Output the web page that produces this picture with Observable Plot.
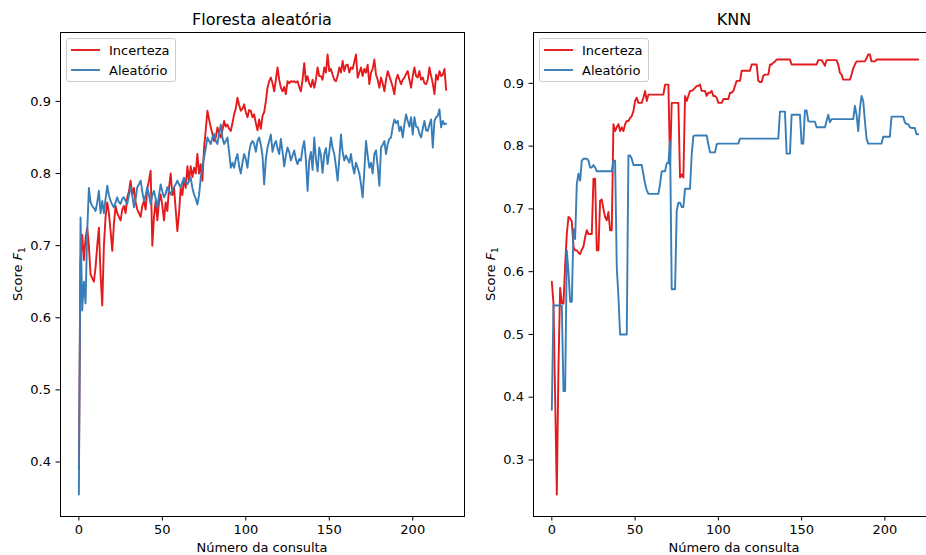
<!DOCTYPE html>
<html>
<head>
<meta charset="utf-8">
<script src="https://cdn.jsdelivr.net/npm/d3@7"></script>
<script src="https://cdn.jsdelivr.net/npm/@observablehq/plot@0.6"></script>
<style>
  html, body { margin: 0; padding: 0; background: #fff; overflow: hidden; }
  #fig { position: relative; width: 926px; height: 555px; overflow: hidden; font-family: "DejaVu Sans", sans-serif; color: #000; }
  .panel { position: absolute; top: 0; width: 470px; height: 555px; }
  .panel svg { max-width: none !important; display: block; }
  .title { position: absolute; top: 10px; font-size: 16px; line-height: normal; transform: translateX(-50%); white-space: nowrap; }
  .xlab { position: absolute; top: 540px; font-size: 13px; transform: translateX(-50%); white-space: nowrap; }
  .ylab { position: absolute; font-size: 13px; white-space: nowrap; transform: translate(-50%, -50%) rotate(-90deg); }
  .ylab sub { font-size: 70%; vertical-align: -3px; line-height: 0; }
  .legend { position: absolute; top: 38px; background: rgba(255,255,255,0.8); border: 1px solid #cccccc; border-radius: 3px; padding: 1px 6px 1px 4px; font-size: 13px; }
  .legend .row { display: flex; align-items: center; height: 20px; }
  .legend svg { margin-right: 9px; }
</style>
</head>
<body>
<div id="fig">
  <div class="panel" id="left" style="left:0px"></div>
  <div class="panel" id="right" style="left:473px"></div>
  <div class="title" style="left:262px">Floresta aleatória</div>
  <div class="title" style="left:734px">KNN</div>
  <div class="xlab" style="left:262px">Número da consulta</div>
  <div class="xlab" style="left:734px">Número da consulta</div>
  <div class="ylab" style="left:17px; top:274px">Score <i>F</i><sub>1</sub></div>
  <div class="ylab" style="left:490px; top:274px">Score <i>F</i><sub>1</sub></div>
  <div class="legend" id="legL" style="left:66px"></div>
  <div class="legend" id="legR" style="left:539px"></div>
</div>
<script>
// ---- Data ----
const seriesNames = ["Incerteza", "Aleatório"];
const panelTitles = ["Floresta aleatória", "KNN"];
const xTicks = [0, 50, 100, 150, 200];
const yTicksRF = [0.4, 0.5, 0.6, 0.7, 0.8, 0.9];
const yTicksKNN = [0.3, 0.4, 0.5, 0.6, 0.7, 0.8, 0.9];

const rfIncerteza = [
  0.39, 0.68, 0.715, 0.68, 0.71, 0.725, 0.70, 0.66, 0.655, 0.65,
  0.67, 0.70, 0.725, 0.66, 0.617, 0.70, 0.74, 0.76, 0.745, 0.72,
  0.693, 0.73, 0.755, 0.745, 0.74, 0.735, 0.75, 0.755, 0.745, 0.767,
  0.775, 0.79, 0.77, 0.78, 0.76, 0.75, 0.745, 0.74, 0.755, 0.762,
  0.75, 0.78, 0.79, 0.804, 0.70, 0.74, 0.762, 0.735, 0.76, 0.771,
  0.755, 0.735, 0.76, 0.748, 0.78, 0.80, 0.77, 0.78, 0.75, 0.72,
  0.745, 0.78, 0.77, 0.794, 0.78, 0.81, 0.79, 0.81, 0.795, 0.808,
  0.80, 0.827, 0.80, 0.813, 0.79, 0.836, 0.86, 0.887, 0.875, 0.864,
  0.855, 0.845, 0.85, 0.864, 0.855, 0.85, 0.86, 0.873, 0.865, 0.868,
  0.862, 0.859, 0.87, 0.882, 0.89, 0.905, 0.895, 0.887, 0.89, 0.896,
  0.885, 0.878, 0.888, 0.887, 0.878, 0.882, 0.87, 0.86, 0.875, 0.862,
  0.88, 0.885, 0.90, 0.919, 0.928, 0.933, 0.925, 0.914, 0.93, 0.947,
  0.93, 0.919, 0.914, 0.92, 0.91, 0.928, 0.925, 0.928, 0.927, 0.928,
  0.926, 0.928, 0.92, 0.914, 0.93, 0.953, 0.928, 0.935, 0.925, 0.92,
  0.93, 0.919, 0.93, 0.947, 0.935, 0.935, 0.93, 0.947, 0.94, 0.965,
  0.942, 0.945, 0.937, 0.93, 0.928, 0.935, 0.947, 0.94, 0.956, 0.942,
  0.95, 0.951, 0.94, 0.947, 0.945, 0.955, 0.965, 0.933, 0.94, 0.947,
  0.935, 0.945, 0.94, 0.951, 0.924, 0.94, 0.945, 0.958, 0.937, 0.93,
  0.919, 0.933, 0.925, 0.914, 0.93, 0.942, 0.935, 0.928, 0.92, 0.91,
  0.93, 0.937, 0.93, 0.924, 0.93, 0.933, 0.938, 0.942, 0.93, 0.919,
  0.935, 0.947, 0.935, 0.933, 0.942, 0.93, 0.933, 0.925, 0.924, 0.93,
  0.947, 0.935, 0.925, 0.91, 0.937, 0.93, 0.942, 0.935, 0.937, 0.945,
  0.916
];

const rfAleatorio = [
  0.355, 0.739, 0.61, 0.65, 0.62, 0.72, 0.78, 0.76, 0.755, 0.752,
  0.748, 0.76, 0.776, 0.745, 0.762, 0.745, 0.765, 0.783, 0.77, 0.762,
  0.757, 0.753, 0.76, 0.767, 0.76, 0.758, 0.765, 0.767, 0.762, 0.758,
  0.77, 0.781, 0.77, 0.753, 0.765, 0.781, 0.785, 0.79, 0.775, 0.762,
  0.77, 0.781, 0.77, 0.758, 0.77, 0.776, 0.765, 0.753, 0.77, 0.785,
  0.775, 0.767, 0.772, 0.781, 0.775, 0.771, 0.778, 0.781, 0.785, 0.79,
  0.785, 0.781, 0.788, 0.794, 0.787, 0.785, 0.79, 0.794, 0.78, 0.771,
  0.765, 0.757, 0.77, 0.794, 0.81, 0.822, 0.835, 0.85, 0.845, 0.841,
  0.85, 0.855, 0.845, 0.841, 0.855, 0.868, 0.85, 0.841, 0.845, 0.85,
  0.83, 0.808, 0.815, 0.808, 0.82, 0.827, 0.81, 0.80, 0.815, 0.827,
  0.82, 0.808, 0.83, 0.841, 0.845, 0.841, 0.83, 0.845, 0.85, 0.84,
  0.825, 0.785, 0.82, 0.836, 0.845, 0.854, 0.83, 0.84, 0.845, 0.835,
  0.827, 0.848, 0.83, 0.81, 0.825, 0.836, 0.83, 0.818, 0.825, 0.832,
  0.82, 0.813, 0.82, 0.818, 0.835, 0.845, 0.82, 0.776, 0.818, 0.83,
  0.805, 0.85, 0.82, 0.803, 0.836, 0.825, 0.801, 0.827, 0.835, 0.813,
  0.83, 0.85, 0.835, 0.827, 0.81, 0.79, 0.82, 0.854, 0.83, 0.818,
  0.825, 0.82, 0.815, 0.827, 0.81, 0.80, 0.815, 0.808, 0.80, 0.785,
  0.767, 0.804, 0.845, 0.825, 0.808, 0.815, 0.80, 0.827, 0.832, 0.81,
  0.783, 0.836, 0.84, 0.845, 0.827, 0.841, 0.848, 0.85, 0.865, 0.875,
  0.87, 0.873, 0.859, 0.865, 0.85, 0.868, 0.882, 0.873, 0.865, 0.878,
  0.854, 0.878, 0.865, 0.864, 0.855, 0.85, 0.862, 0.873, 0.86, 0.859,
  0.868, 0.875, 0.836, 0.873, 0.878, 0.88, 0.889, 0.864, 0.873, 0.868,
  0.869
];

const knnIncerteza = [
  0.584, 0.55, 0.40, 0.245, 0.45, 0.574, 0.55, 0.549, 0.61, 0.66,
  0.687, 0.685, 0.68, 0.64, 0.634, 0.634, 0.63, 0.628, 0.635, 0.64,
  0.655, 0.666, 0.66, 0.66, 0.66, 0.748, 0.748, 0.634, 0.634, 0.713,
  0.715, 0.70, 0.687, 0.682, 0.695, 0.666, 0.666, 0.835, 0.824, 0.83,
  0.835, 0.824, 0.83, 0.824, 0.835, 0.84, 0.84, 0.845, 0.848, 0.856,
  0.872, 0.877, 0.869, 0.869, 0.869, 0.877, 0.888, 0.872, 0.882, 0.882,
  0.882, 0.882, 0.882, 0.882, 0.882, 0.882, 0.882, 0.882, 0.898, 0.898,
  0.898, 0.77, 0.869, 0.869, 0.869, 0.869, 0.869, 0.75, 0.755, 0.75,
  0.88, 0.872, 0.88, 0.888, 0.888, 0.89, 0.893, 0.896, 0.896, 0.898,
  0.888, 0.888, 0.888, 0.88, 0.885, 0.885, 0.888, 0.88, 0.88, 0.877,
  0.869, 0.869, 0.869, 0.875, 0.875, 0.875, 0.875, 0.885, 0.885, 0.888,
  0.896, 0.904, 0.904, 0.904, 0.92, 0.92, 0.92, 0.92, 0.92, 0.92,
  0.93, 0.93, 0.93, 0.93, 0.904, 0.902, 0.902, 0.912, 0.914, 0.914,
  0.914, 0.93, 0.93, 0.933, 0.935, 0.938, 0.938, 0.938, 0.938, 0.938,
  0.938, 0.938, 0.938, 0.938, 0.93, 0.93, 0.93, 0.93, 0.93, 0.93,
  0.93, 0.93, 0.93, 0.93, 0.93, 0.93, 0.93, 0.93, 0.93, 0.93,
  0.937, 0.937, 0.937, 0.933, 0.928, 0.937, 0.937, 0.937, 0.937, 0.937,
  0.937, 0.937, 0.93, 0.917, 0.914, 0.906, 0.906, 0.906, 0.906, 0.906,
  0.914, 0.924, 0.93, 0.935, 0.935, 0.935, 0.935, 0.935, 0.935, 0.94,
  0.946, 0.946, 0.935, 0.935, 0.935, 0.938, 0.938, 0.938, 0.938, 0.938,
  0.938, 0.938, 0.938, 0.938, 0.938, 0.938, 0.938, 0.938, 0.938, 0.938,
  0.938, 0.938, 0.938, 0.938, 0.938, 0.938, 0.938, 0.938, 0.938, 0.938,
  0.938
];

const knnAleatorio = [
  0.38, 0.546, 0.546, 0.546, 0.546, 0.546, 0.546, 0.41, 0.41, 0.634,
  0.60, 0.552, 0.552, 0.668, 0.652, 0.74, 0.756, 0.745, 0.777, 0.78,
  0.78, 0.78, 0.777, 0.766, 0.766, 0.77, 0.766, 0.76, 0.76, 0.76,
  0.76, 0.76, 0.76, 0.76, 0.76, 0.76, 0.76, 0.777, 0.777, 0.607,
  0.56, 0.50, 0.50, 0.50, 0.50, 0.50, 0.785, 0.785, 0.78, 0.77,
  0.77, 0.77, 0.77, 0.77, 0.77, 0.755, 0.74, 0.73, 0.724, 0.724,
  0.724, 0.724, 0.724, 0.724, 0.724, 0.74, 0.76, 0.76, 0.76, 0.773,
  0.773, 0.808, 0.572, 0.572, 0.572, 0.697, 0.71, 0.71, 0.703, 0.703,
  0.732, 0.732, 0.732, 0.732, 0.787, 0.816, 0.817, 0.817, 0.817, 0.817,
  0.817, 0.817, 0.817, 0.817, 0.803, 0.79, 0.79, 0.79, 0.79, 0.803,
  0.804, 0.804, 0.804, 0.804, 0.804, 0.804, 0.804, 0.804, 0.804, 0.804,
  0.804, 0.804, 0.804, 0.812, 0.812, 0.812, 0.812, 0.812, 0.812, 0.812,
  0.812, 0.812, 0.812, 0.812, 0.812, 0.812, 0.812, 0.812, 0.812, 0.812,
  0.812, 0.812, 0.812, 0.812, 0.812, 0.812, 0.812, 0.855, 0.855, 0.855,
  0.855, 0.788, 0.788, 0.788, 0.85, 0.85, 0.85, 0.85, 0.85, 0.85,
  0.804, 0.804, 0.857, 0.857, 0.84, 0.839, 0.839, 0.839, 0.839, 0.83,
  0.83, 0.83, 0.83, 0.83, 0.83, 0.84, 0.85, 0.838, 0.843, 0.843,
  0.843, 0.843, 0.843, 0.843, 0.843, 0.843, 0.843, 0.843, 0.843, 0.843,
  0.843, 0.843, 0.864, 0.85, 0.824, 0.86, 0.88, 0.872, 0.84, 0.812,
  0.804, 0.804, 0.804, 0.804, 0.804, 0.804, 0.804, 0.804, 0.804, 0.815,
  0.815, 0.815, 0.815, 0.815, 0.847, 0.847, 0.847, 0.847, 0.847, 0.847,
  0.847, 0.847, 0.838, 0.835, 0.835, 0.83, 0.829, 0.829, 0.829, 0.819,
  0.819
];

const colors = ["#e41a1c", "#377eb8"];

// ---- helpers ----
function padded(lo, hi, frac = 0.05) { const p = (hi - lo) * frac; return [lo - p, hi + p]; }

function panel(seriesA, seriesB, yTicks, width) {
  const n = Math.max(seriesA.length, seriesB.length) - 1;
  const xDom = padded(0, n);
  const yDom = padded(d3.min([...seriesA, ...seriesB]), d3.max([...seriesA, ...seriesB]));
  const rows = (arr, name) => arr.map((v, i) => ({q: i, v, name}));
  const svg = Plot.plot({
    width, height: 555,
    marginLeft: 60, marginRight: 6, marginTop: 32, marginBottom: 39,
    style: {fontFamily: "DejaVu Sans, sans-serif", fontSize: "13px", color: "#000", background: "transparent", overflow: "visible", maxWidth: "none"},
    x: {domain: xDom, ticks: xTicks, tickSize: 4.5, tickPadding: 4, label: null, tickFormat: d3.format("d")},
    y: {domain: yDom, ticks: yTicks, tickSize: 4.5, tickPadding: 5, label: null, tickFormat: d3.format(".1f")},
    marks: [
      Plot.lineY(rows(seriesA, seriesNames[0]), {x: "q", y: "v", stroke: colors[0], strokeWidth: 1.9, strokeLinejoin: "round"}),
      Plot.lineY(rows(seriesB, seriesNames[1]), {x: "q", y: "v", stroke: colors[1], strokeWidth: 1.9, strokeLinejoin: "round"}),
      Plot.frame({stroke: "#000", strokeWidth: 1})
    ]
  });
  svg.style.maxWidth = "none";
  return svg;
}

document.getElementById("left").appendChild(panel(rfIncerteza, rfAleatorio, yTicksRF, 470));
document.getElementById("right").appendChild(panel(knnIncerteza, knnAleatorio, yTicksKNN, 469));

function legend(el) {
  seriesNames.forEach((name, k) => {
    const row = document.createElement("div");
    row.className = "row";
    row.innerHTML = `<svg width="29" height="4"><line x1="0" y1="2" x2="29" y2="2" stroke="${colors[k]}" stroke-width="1.9"/></svg><span>${name}</span>`;
    el.appendChild(row);
  });
}
legend(document.getElementById("legL"));
legend(document.getElementById("legR"));
</script>
</body>
</html>
